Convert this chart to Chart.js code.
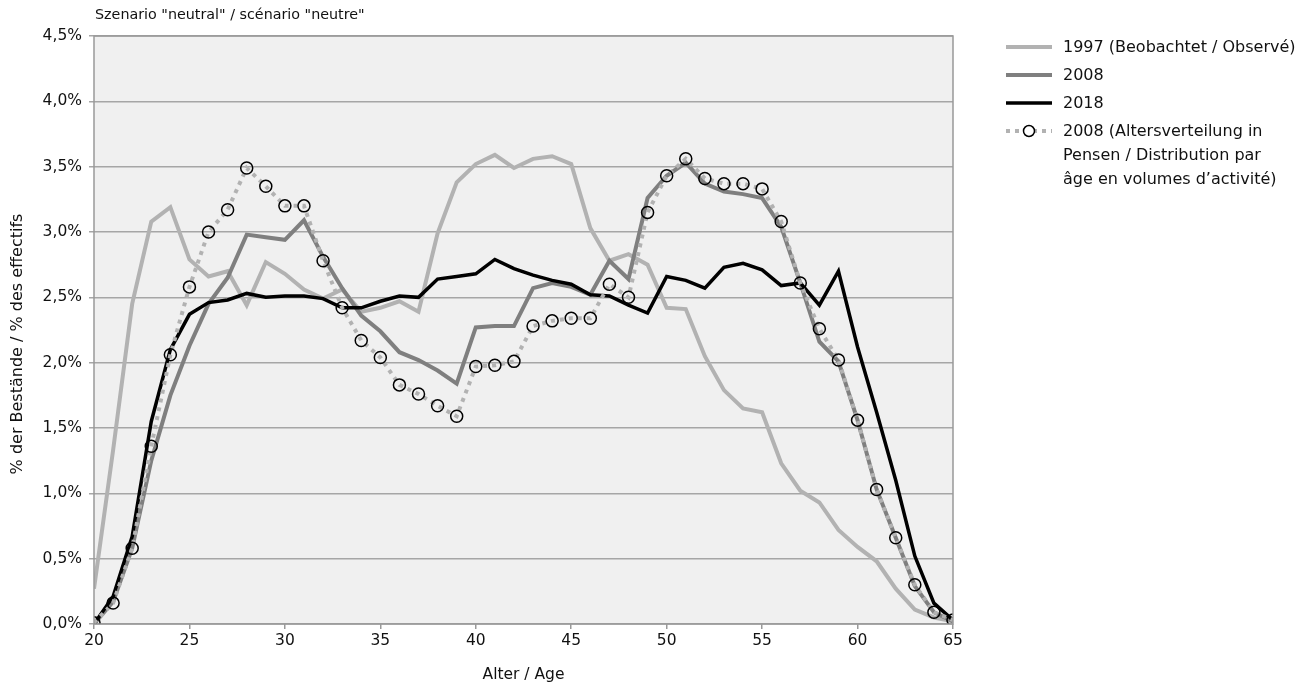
<!DOCTYPE html>
<html>
<head>
<meta charset="utf-8">
<script src="https://cdn.jsdelivr.net/npm/chart.js@4.4.1/dist/chart.umd.min.js"></script>
<style>
  body { margin: 0; background: #fff; font-family: "DejaVu Sans", sans-serif; }
  #wrap { position: relative; width: 1314px; height: 688px; }
  #title { position: absolute; left: 95px; top: 6px; font-size: 14.3px; color: #111; }
  #legend { position: absolute; left: 1006px; top: 33px; font-size: 16px; color: #111; }
  .row { display: flex; align-items: flex-start; min-height: 28px; }
  .row svg { flex: none; margin-right: 11px; }
  .row div { line-height: 24px; padding-top: 2px; }
</style>
</head>
<body>
<div id="wrap">
  <canvas id="myChart" width="1314" height="688"></canvas>
  <div id="title">Szenario "neutral" / scénario "neutre"</div>
  <div id="legend"></div>
</div>
<script>
const ages = [20,21,22,23,24,25,26,27,28,29,30,31,32,33,34,35,36,37,38,39,40,41,42,
  43,44,45,46,47,48,49,50,51,52,53,54,55,56,57,58,59,60,61,62,63,64,65];

const obs1997 = [0.27,1.33,2.45,3.08,3.19,2.79,2.66,2.70,2.44,2.77,2.68,2.56,2.49,2.56,2.39,2.42,
  2.47,2.39,2.99,3.38,3.52,3.59,3.49,3.56,3.58,3.52,3.03,2.78,2.83,2.75,2.42,2.41,
  2.05,1.79,1.65,1.62,1.23,1.02,0.93,0.72,0.59,0.48,0.27,0.11,0.05,0.02];

const proj2008 = [0.0,0.17,0.58,1.25,1.75,2.13,2.45,2.65,2.98,2.96,2.94,3.09,2.81,2.57,2.36,2.24,
  2.08,2.02,1.94,1.84,2.27,2.28,2.28,2.57,2.61,2.58,2.52,2.78,2.64,3.26,3.43,3.53,
  3.37,3.31,3.29,3.26,3.04,2.61,2.16,2.01,1.56,1.03,0.66,0.29,0.09,0.02];

const proj2018 = [0.0,0.21,0.67,1.55,2.10,2.37,2.46,2.48,2.53,2.50,2.51,2.51,2.49,2.42,2.42,2.47,
  2.51,2.50,2.64,2.66,2.68,2.79,2.72,2.67,2.63,2.60,2.52,2.51,2.44,2.38,2.66,2.63,
  2.57,2.73,2.76,2.71,2.59,2.61,2.44,2.70,2.12,1.62,1.10,0.52,0.16,0.03];

const pensen2008 = [0.01,0.16,0.58,1.36,2.06,2.58,3.00,3.17,3.49,3.35,3.20,3.20,2.78,2.42,2.17,2.04,
  1.83,1.76,1.67,1.59,1.97,1.98,2.01,2.28,2.32,2.34,2.34,2.60,2.50,3.15,3.43,3.56,
  3.41,3.37,3.37,3.33,3.08,2.61,2.26,2.02,1.56,1.03,0.66,0.30,0.09,0.03];

const seriesNames = ['1997 (Beobachtet / Observé)', '2008', '2018',
  '2008 (Altersverteilung in|Pensen / Distribution par|âge en volumes d\u2019activité)'];

const yTitle = '% der Bestände / % des effectifs';

const toPoints = arr => arr.map((v, i) => ({ x: ages[i], y: v }));

// grey plot area with frame, y title centred on the whole picture
const plotBg = {
  id: 'plotBg',
  beforeDraw(chart) {
    const { ctx, chartArea: a } = chart;
    ctx.save();
    ctx.fillStyle = '#f0f0f0';
    ctx.fillRect(a.left, a.top, a.right - a.left, a.bottom - a.top);
    ctx.restore();
  },
  afterDatasetsDraw(chart) {
    const { ctx, chartArea: a } = chart;
    ctx.save();
    ctx.strokeStyle = '#999999';
    ctx.lineWidth = 1.5;
    ctx.strokeRect(a.left, a.top, a.right - a.left, a.bottom - a.top);
    ctx.translate(18, chart.height / 2);
    ctx.rotate(-Math.PI / 2);
    ctx.fillStyle = '#111';
    ctx.font = '16px "DejaVu Sans"';
    ctx.textAlign = 'center';
    ctx.textBaseline = 'middle';
    ctx.fillText(yTitle, 0, 0);
    ctx.restore();
  }
};

const ctx = document.getElementById('myChart').getContext('2d');
const myChart = new Chart(ctx, {
  type: 'line',
  data: {
    datasets: [
      {
        label: seriesNames[0],
        data: toPoints(obs1997),
        borderColor: '#b2b2b2',
        borderWidth: 4,
        pointRadius: 0,
        order: 4
      },
      {
        label: seriesNames[1],
        data: toPoints(proj2008),
        borderColor: '#7f7f7f',
        borderWidth: 4,
        pointRadius: 0,
        order: 3
      },
      {
        label: seriesNames[2],
        data: toPoints(proj2018),
        borderColor: '#000000',
        borderWidth: 3.5,
        pointRadius: 0,
        order: 2
      },
      {
        label: seriesNames[3],
        data: toPoints(pensen2008),
        borderColor: '#b2b2b2',
        borderWidth: 4,
        borderDash: [4, 5],
        pointRadius: 6,
        pointBorderWidth: 1.5,
        pointBorderColor: '#000000',
        pointBackgroundColor: 'rgba(0,0,0,0)',
        order: 1
      }
    ]
  },
  options: {
    responsive: false,
    animation: false,
    layout: { padding: { left: 0, right: 361, top: 36, bottom: 0 } },
    scales: {
      x: {
        type: 'linear',
        min: 20,
        max: 65,
        afterFit: s => { s.height = 64; },
        ticks: { stepSize: 5, color: '#111', font: { family: 'DejaVu Sans', size: 15.5 }, padding: 3 },
        grid: { drawOnChartArea: false, drawTicks: true, tickLength: 5, color: '#999999', lineWidth: 1.5 },
        border: { display: false },
        title: { display: true, text: 'Alter / Age', color: '#111', font: { family: 'DejaVu Sans', size: 15.5 }, padding: { top: 5 } }
      },
      y: {
        min: 0,
        max: 4.5,
        afterFit: s => { s.width = 94; },
        ticks: {
          stepSize: 0.5,
          color: '#111',
          font: { family: 'DejaVu Sans', size: 15.5 },
          padding: 7,
          callback: v => v.toFixed(1).replace('.', ',') + '%'
        },
        grid: { color: '#a6a6a6', lineWidth: 1.5, tickLength: 5 },
        border: { display: false }
      }
    },
    plugins: {
      legend: { display: false },
      tooltip: { enabled: false }
    }
  },
  plugins: [plotBg]
});

// legend on the right
const legend = document.getElementById('legend');
myChart.data.datasets.forEach((ds, i) => {
  const row = document.createElement('div');
  row.className = 'row';
  let svg = '<svg width="46" height="28"><line x1="0" y1="14" x2="46" y2="14" stroke="' + ds.borderColor +
    '" stroke-width="' + ds.borderWidth + '"' + (ds.borderDash ? ' stroke-dasharray="4 5"' : '') + '/>';
  if (ds.pointRadius) svg += '<circle cx="23" cy="14" r="5.5" fill="#fff" stroke="#000" stroke-width="1.5"/>';
  svg += '</svg>';
  row.innerHTML = svg + '<div>' + ds.label.split('|').join('<br>') + '</div>';
  legend.appendChild(row);
});
</script>
</body>
</html>
